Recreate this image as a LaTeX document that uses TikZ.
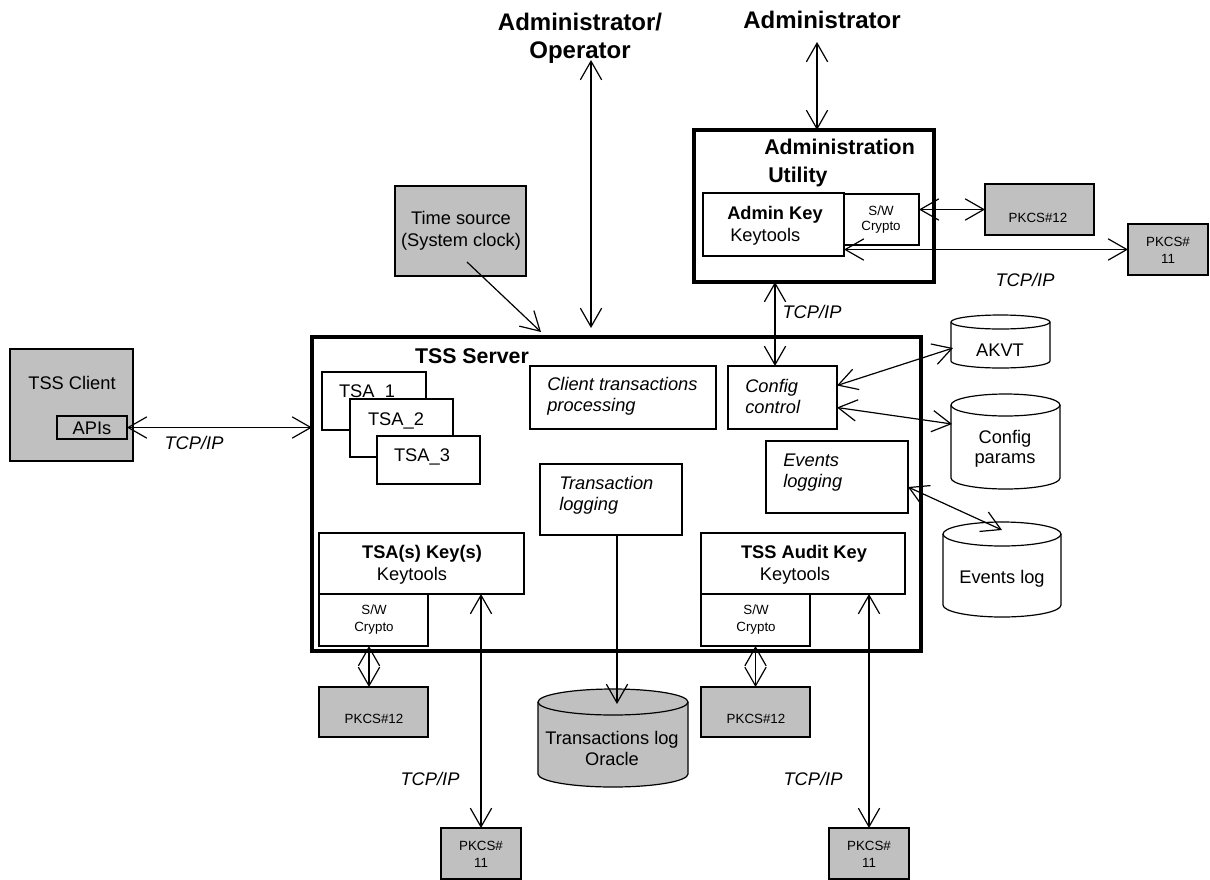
\documentclass[tikz,border=0pt]{standalone}
\usepackage{fontspec}
\setmainfont{Liberation Sans}
\usetikzlibrary{arrows.meta,calc}
\definecolor{boxgray}{RGB}{192,192,192}
\newcommand\boxnode[6]{%
  \pgfmathsetmacro\bxw{(#5-#3)*0.75}%
  \pgfmathsetmacro\bxh{(#6-#4)*0.75}%
  \node[#1,minimum width=\bxw pt,minimum height=\bxh pt] (#2) at ({(#3+#5)/2},{(#4+#6)/2}) {};}
\newcommand\cylshape[6]{% fill, L, T, R, B, ry
  \pgfmathsetmacro\crx{(#4-#2)*0.375}%
  \pgfmathsetmacro\cry{#6*0.75}%
  \draw[ln,fill=#1] ({#2},{#3+#6}) -- ({#2},{#5-#6})
     arc[start angle=180,end angle=360,x radius=\crx pt,y radius=\cry pt]
     -- ({#4},{#3+#6})
     arc[start angle=0,end angle=180,x radius=\crx pt,y radius=\cry pt] -- cycle;
  \draw[ln] ({#2},{#3+#6}) arc[start angle=180,end angle=360,x radius=\crx pt,y radius=\cry pt];}
\begin{document}
\begin{tikzpicture}[x=0.75pt,y=-0.75pt,
  ln/.style={line width=0.9pt},
  dbl/.style={ln,{Straight Barb[length=14pt,width=16pt]}-{Straight Barb[length=14pt,width=16pt]}},
  sgl/.style={ln,-{Straight Barb[length=14pt,width=16pt]}},
  wbox/.style={draw,line width=0.9pt,fill=white,inner sep=0,outer sep=0},
  gbox/.style={wbox,fill=boxgray},
  tbox/.style={draw,line width=2.4pt,inner sep=0,outer sep=0},
  txt/.style={inner sep=0,align=center,font=\fontsize{13.7}{#1}\selectfont},
  txt/.default=16,
  itxt/.style={inner sep=0,align=left,font=\fontsize{13.7}{#1}\selectfont\itshape},
  itxt/.default=16,
  btxt/.style={inner sep=0,font=\fontsize{13.7}{16}\selectfont\bfseries},
  hdr/.style={inner sep=0,font=\fontsize{16}{19}\selectfont\bfseries},
  ttl/.style={inner sep=0,align=center,font=\fontsize{18}{21}\selectfont\bfseries},
  sml/.style={inner sep=0,align=center,font=\fontsize{10}{#1}\selectfont},
  sml/.default=12
]
\useasboundingbox (0,0) rectangle (1210,879);

% titles
\node[ttl] (adop) at (580,38) {Administrator/\\Operator};
\node[ttl] (adm) at (822,20) {Administrator};

% time source
\boxnode{gbox}{tsrc}{395}{186}{526}{276}
\node[txt=16.5] (tsrct) at (461,231) {Time source\\(System clock)};

% administration utility
\boxnode{tbox}{autil}{694}{130}{934}{282}
\node[hdr,anchor=west] (autl1) at (764,147) {Administration};
\node[hdr,anchor=west] (autl2) at (768,177) {Utility};
\boxnode{wbox}{akey}{703}{193}{844}{256}
\node[btxt,anchor=west] (akeyt1) at (727,215) {Admin Key};
\node[txt,anchor=west] (akeyt2) at (730,237) {Keytools};
\boxnode{wbox}{swa}{844}{194}{919}{245}
\node[sml=11.5] (swat) at (881,219.5) {S/W\\Crypto};
\boxnode{gbox}{pk12a}{985}{184}{1094}{235}
\node[sml] (pk12at) at (1038,218) {PKCS\#12};
\boxnode{gbox}{pk11a}{1128}{224}{1208}{275}
\node[sml=12.75] (pk11at) at (1168,250.5) {PKCS\#\\11};
\node[itxt] (tcp1) at (1025,280) {TCP/IP};
\node[itxt] (tcp2) at (812,312) {TCP/IP};

% TSS client
\boxnode{gbox}{client}{10}{349}{133}{461}
\node[txt] (clientt) at (72,383) {TSS Client};
\boxnode{gbox}{apis}{57}{416}{127}{439}
\node[txt] (apist) at (92,428) {APIs};
\node[itxt] (tcp3) at (194,443) {TCP/IP};

% TSS server
\boxnode{tbox}{srv}{312}{337}{921}{651}
\node[hdr] (srvt) at (472,356) {TSS Server};
\boxnode{wbox}{tsa1}{322}{372}{426}{430}
\node[txt] (tsa1t) at (367,393) {TSA\_1};
\boxnode{wbox}{tsa2}{350}{399}{453}{457}
\node[txt] (tsa2t) at (396,421) {TSA\_2};
\boxnode{wbox}{tsa3}{377}{436}{480}{484}
\node[txt] (tsa3t) at (422,457) {TSA\_3};

\boxnode{wbox}{ctp}{530}{366}{716}{429}
\node[itxt=15.75,anchor=west] (ctpt) at (547,396.5) {Client transactions\\processing};
\boxnode{wbox}{cfg}{728}{366}{837}{429}
\node[itxt=15.75,anchor=west] (cfgt) at (745,396.5) {Config\\control};
\boxnode{wbox}{evl}{766}{441}{908}{513}
\node[itxt=15.75,anchor=west] (evlt) at (783,472.5) {Events\\logging};
\boxnode{wbox}{tlog}{540}{464}{682}{535}
\node[itxt=15.75,anchor=west] (tlogt) at (559,495.5) {Transaction\\logging};

\boxnode{wbox}{tsakey}{319}{533}{524}{594}
\node[btxt] (tsakeyt1) at (422,554) {TSA(s) Key(s)};
\node[txt] (tsakeyt2) at (412,576) {Keytools};
\boxnode{wbox}{swb}{319}{594}{428}{646}
\node[sml=12.75] (swbt) at (374,619.5) {S/W\\Crypto};
\boxnode{wbox}{audkey}{701}{533}{905}{594}
\node[btxt] (audkeyt1) at (804,554) {TSS Audit Key};
\node[txt] (audkeyt2) at (795,576) {Keytools};
\boxnode{wbox}{swc}{701}{594}{810}{646}
\node[sml=12.75] (swct) at (756,619.5) {S/W\\Crypto};

% bottom boxes
\boxnode{gbox}{pk12b}{319}{687}{428}{737}
\node[sml] (pk12bt) at (374,719) {PKCS\#12};
\boxnode{gbox}{pk12c}{701}{687}{810}{737}
\node[sml] (pk12ct) at (756,719) {PKCS\#12};
\boxnode{gbox}{pk11b}{441}{828}{521}{879}
\node[sml=12.75] (pk11bt) at (481,854.5) {PKCS\#\\11};
\boxnode{gbox}{pk11c}{829}{828}{909}{879}
\node[sml=12.75] (pk11ct) at (869,854.5) {PKCS\#\\11};
\node[itxt] (tcp4) at (430,779) {TCP/IP};
\node[itxt] (tcp5) at (813,779) {TCP/IP};

% cylinders
\cylshape{white}{951}{315}{1050}{368}{7}
\node[txt] (akvt) at (1000,350) {AKVT};
\cylshape{white}{951}{394}{1060}{489}{11}
\node[txt=15] (cfgp) at (1005,449) {Config\\params};
\cylshape{white}{943}{522}{1061}{617}{12}
\node[txt] (evlog) at (1002,579) {Events log};
\cylshape{boxgray}{538}{689}{688}{787}{13}
\node[txt=15.75] (orc) at (612,748.5) {Transactions log\\Oracle};

% coordinates
\coordinate (opTop) at (591,60);
\coordinate (opBot) at (591,328);
\coordinate (admTop) at (817,42);
\coordinate (tsStart) at (467,262);
\coordinate (tsEnd) at (541,332);
\coordinate (akvtIn) at (953,348);
\coordinate (cfgpIn) at (952,424);
\coordinate (evlogIn) at (1002,530);
\coordinate (orcIn) at (617,704);
\coordinate (cfgTop) at ([xshift=-5.625pt]cfg.north);

% connectors
\draw[dbl] (opTop) -- (opBot);
\draw[dbl] (admTop) -- (admTop |- autil.north);
\draw[sgl] (tsStart) -- (tsEnd);
\draw[dbl] (swa.east |- pk12a.west) -- (pk12a.west);
\draw[dbl] (akey.east |- pk11a.west) -- (pk11a.west);
\draw[dbl] (cfgTop |- autil.south) -- (cfgTop);
\draw[dbl] (apis.east) -- (apis.east -| srv.west);
\draw[dbl] ([yshift=9pt]cfg.east) -- (akvtIn);
\draw[dbl] ([yshift=-7.5pt]cfg.east) -- (cfgpIn);
\draw[dbl] ([yshift=-7.5pt]evl.east) -- (evlogIn);
\draw[sgl] ([xshift=4.5pt]tlog.south) -- (orcIn);
\draw[dbl] ([xshift=-3.375pt]swb.south) -- ([xshift=-3.375pt]pk12b.north);
\draw[dbl] (swc.south) -- (pk12c.north);
\draw[dbl] (pk11b.north |- tsakey.south) -- (pk11b.north);
\draw[dbl] (pk11c.north |- audkey.south) -- (pk11c.north);
\end{tikzpicture}
\end{document}
